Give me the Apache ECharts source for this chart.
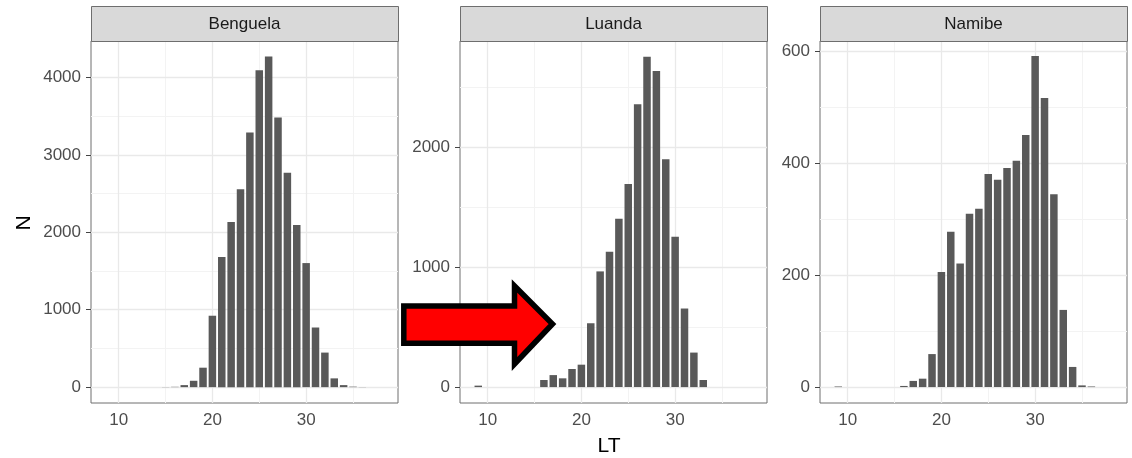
<!DOCTYPE html>
<html><head><meta charset="utf-8">
<script src="https://cdn.jsdelivr.net/npm/echarts@6/dist/echarts.min.js"></script>
<style>html,body{margin:0;padding:0;background:#fff}#c{width:1132px;height:458px}</style>
</head><body><div id="c"></div>
<script>
// ---- data ----
const LT = [9,10,11,12,13,14,15,16,17,18,19,20,21,22,23,24,25,26,27,28,29,30,31,32,33,34,35,36];
const N_BENGUELA = [0,0,0,0,0,0,2,4,26,82,251,922,1680,2134,2554,3287,4092,4269,3481,2770,2095,1602,770,446,113,26,6,2];
const N_LUANDA   = [12,0,0,0,0,0,0,59,100,73,151,187,533,966,1130,1406,1695,2362,2758,2639,1903,1255,656,288,59,0,0,0];
const N_NAMIBE   = [1,0,0,0,0,0,0,2,11,15,59,206,278,221,310,319,381,371,392,405,451,592,517,345,138,36,3,1];
const REGIONS = ['Benguela','Luanda','Namibe'];
const X_TICKS = [10,20,30];
const X_MINOR = [15,25,35];
const Y_TICKS_BENGUELA = [0,1000,2000,3000,4000];
const Y_MINOR_BENGUELA = [500,1500,2500,3500];
const Y_TICKS_LUANDA = [0,1000,2000];
const Y_MINOR_LUANDA = [500,1500,2500];
const Y_TICKS_NAMIBE = [0,200,400,600];
const Y_MINOR_NAMIBE = [100,300,500];

// ---- layout ----
const FONT = 'Liberation Sans, Arial, sans-serif';
const PANEL_LEFT = [91, 460, 820];
const PANEL_W = 307, PANEL_TOP = 41, PANEL_H = 362, STRIP_TOP = 6;
const X_RANGE = [7.05, 39.8];
const Y_RANGES = [[-205, 4470], [-133, 2890], [-28.5, 619]];
const NS = [N_BENGUELA, N_LUANDA, N_NAMIBE];
const YT = [Y_TICKS_BENGUELA, Y_TICKS_LUANDA, Y_TICKS_NAMIBE];
const YM = [Y_MINOR_BENGUELA, Y_MINOR_LUANDA, Y_MINOR_NAMIBE];

const grid = [], xAxis = [], yAxis = [], series = [], graphic = [];
const BORDER = '#6e6e6e';
const plain = v => String(v);
for (let p = 0; p < 3; p++) {
  grid.push({left: PANEL_LEFT[p], top: PANEL_TOP, width: PANEL_W, height: PANEL_H,
    show: true, borderColor: BORDER, borderWidth: 1, backgroundColor: 'transparent'});
  xAxis.push({type: 'value', gridIndex: p, min: X_RANGE[0], max: X_RANGE[1],
    axisLine: {show: false}, splitLine: {show: false},
    axisTick: {show: true, length: 5, customValues: X_TICKS, lineStyle: {color: '#444'}},
    axisLabel: {customValues: X_TICKS, formatter: plain, margin: 9, color: '#4d4d4d', fontSize: 17, fontFamily: FONT}});
  yAxis.push({type: 'value', gridIndex: p, min: Y_RANGES[p][0], max: Y_RANGES[p][1],
    axisLine: {show: false}, splitLine: {show: false},
    axisTick: {show: true, length: 5, customValues: YT[p], lineStyle: {color: '#444'}},
    axisLabel: {customValues: YT[p], formatter: plain, margin: 10, color: '#4d4d4d', fontSize: 17, fontFamily: FONT}});
  const gl = [];
  X_MINOR.forEach(v => gl.push({xAxis: v, lineStyle: {color: '#f3f3f3', width: 1}}));
  YM[p].forEach(v => gl.push({yAxis: v, lineStyle: {color: '#f3f3f3', width: 1}}));
  X_TICKS.forEach(v => gl.push({xAxis: v, lineStyle: {color: '#e9e9e9', width: 1.3}}));
  YT[p].forEach(v => gl.push({yAxis: v, lineStyle: {color: '#e9e9e9', width: 1.3}}));
  series.push({type: 'bar', xAxisIndex: p, yAxisIndex: p, barWidth: '80%',
    itemStyle: {color: '#595959'},
    data: LT.map((x, i) => [x, NS[p][i]]),
    markLine: {z: 1, silent: true, symbol: 'none', label: {show: false},
      lineStyle: {type: 'solid'}, animation: false, data: gl}});
  graphic.push({type: 'rect', shape: {x: PANEL_LEFT[p] + 0.5, y: STRIP_TOP + 0.5, width: PANEL_W, height: PANEL_TOP - STRIP_TOP},
    style: {fill: '#d9d9d9', stroke: BORDER, lineWidth: 1}, z: 10});
  graphic.push({type: 'text', x: PANEL_LEFT[p] + PANEL_W / 2, y: (STRIP_TOP + PANEL_TOP) / 2 + 1,
    style: {text: REGIONS[p], fontSize: 17, fontFamily: FONT, fill: '#1a1a1a', align: 'center', verticalAlign: 'middle'}, z: 11});
}
graphic.push({type: 'text', x: 24, y: PANEL_TOP + PANEL_H / 2 + 1, rotation: Math.PI / 2,
  style: {text: 'N', fontSize: 21, fontFamily: FONT, fill: '#000', align: 'center', verticalAlign: 'middle'}, z: 11});
graphic.push({type: 'text', x: (PANEL_LEFT[0] + PANEL_LEFT[2] + PANEL_W) / 2, y: 446,
  style: {text: 'LT', fontSize: 21, fontFamily: FONT, fill: '#000', align: 'center', verticalAlign: 'middle'}, z: 11});
// red annotation arrow
graphic.push({type: 'polygon', z: 100,
  shape: {points: [[403.8,306],[514.5,306],[514.5,286],[552.5,324],[514.5,364],[514.5,343.3],[403.8,343.3]]},
  style: {fill: '#ff0000', stroke: '#000', lineWidth: 5.5, lineJoin: 'miter'}});

const chart = echarts.init(document.getElementById('c'), null, {renderer: 'canvas'});
chart.setOption({animation: false, backgroundColor: '#fff', grid, xAxis, yAxis, series, graphic});
</script></body></html>
